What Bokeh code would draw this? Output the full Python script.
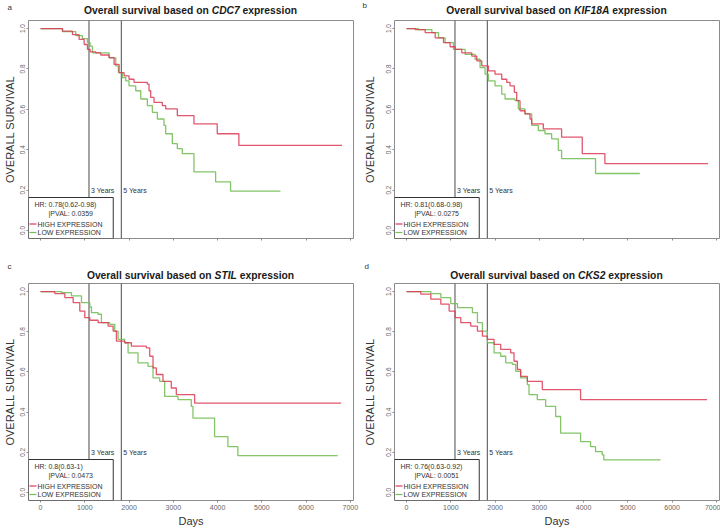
import math
from bokeh.plotting import figure
from bokeh.layouts import column, row
from bokeh.models import (BoxAnnotation, Label, FixedTicker, NumeralTickFormatter,
                          CustomJSTickFormatter, Range1d)
from bokeh.core.properties import value
from bokeh.embed import file_html
from bokeh.resources import INLINE

# ---------------------------------------------------------------------------
# Kaplan-Meier step curves: time in days, survival probability
# ---------------------------------------------------------------------------
cdc7_high_days = [0, 496, 722, 872, 985, 1060, 1120, 1248, 1361, 1549, 1662, 1775, 1888, 2000,
                  2113, 2414, 2452, 2489, 2564, 2752, 2828, 3091, 3467, 3993, 4482, 6813]
cdc7_high_surv = [1.0, 0.987, 0.970, 0.946, 0.921, 0.897, 0.885, 0.880, 0.869, 0.856, 0.823, 0.782,
                  0.766, 0.749, 0.733, 0.725, 0.692, 0.659, 0.634, 0.618, 0.602, 0.569, 0.528,
                  0.479, 0.421, 0.421]
cdc7_low_days = [0, 496, 797, 948, 1060, 1120, 1173, 1549, 1700, 1760, 1850, 1925, 2000, 2151,
                 2264, 2414, 2527, 2640, 2790, 2828, 2978, 3091, 3204, 3467, 3956, 4294, 5422]
cdc7_low_surv = [1.0, 0.985, 0.965, 0.950, 0.930, 0.913, 0.880, 0.855, 0.815, 0.782, 0.757, 0.741,
                 0.716, 0.692, 0.651, 0.618, 0.585, 0.552, 0.520, 0.479, 0.430, 0.405, 0.380,
                 0.290, 0.241, 0.195, 0.195]

kif18a_high_days = [0, 196, 421, 647, 835, 985, 1098, 1248, 1474, 1587, 1700, 1850, 2000, 2151,
                    2264, 2339, 2436, 2489, 2564, 2677, 2790, 2828, 3091, 3504, 3971, 4482, 6813]
kif18a_high_surv = [1.0, 0.995, 0.980, 0.954, 0.930, 0.910, 0.897, 0.880, 0.864, 0.840, 0.815,
                    0.790, 0.774, 0.749, 0.733, 0.716, 0.684, 0.643, 0.593, 0.577, 0.552, 0.528,
                    0.503, 0.462, 0.380, 0.331, 0.331]
kif18a_low_days = [0, 271, 572, 722, 872, 1060, 1324, 1549, 1662, 1775, 1850, 2000, 2151, 2226,
                   2452, 2527, 2677, 2828, 2978, 3128, 3279, 3429, 3504, 4271, 5272]
kif18a_low_surv = [1.0, 0.995, 0.980, 0.954, 0.930, 0.897, 0.872, 0.848, 0.807, 0.774, 0.741,
                   0.716, 0.675, 0.651, 0.643, 0.602, 0.577, 0.520, 0.495, 0.479, 0.454, 0.397,
                   0.356, 0.282, 0.282]

stil_high_days = [0, 323, 549, 737, 887, 1000, 1113, 1301, 1527, 1640, 1715, 1903, 2053, 2391,
                  2467, 2542, 2617, 2767, 2955, 3068, 3482, 6791]
stil_high_surv = [1.0, 0.990, 0.970, 0.945, 0.903, 0.870, 0.857, 0.845, 0.828, 0.803, 0.753,
                  0.745, 0.728, 0.720, 0.678, 0.620, 0.587, 0.553, 0.520, 0.487, 0.445, 0.445]
stil_low_days = [0, 474, 699, 925, 1113, 1150, 1301, 1376, 1564, 1677, 1752, 1903, 1978, 2203,
                 2429, 2542, 2692, 2805, 3106, 3407, 3444, 3933, 4234, 4459, 6715]
stil_low_surv = [1.0, 0.995, 0.978, 0.945, 0.923, 0.895, 0.887, 0.845, 0.837, 0.803, 0.762,
                 0.745, 0.695, 0.645, 0.628, 0.570, 0.553, 0.478, 0.462, 0.428, 0.370, 0.278,
                 0.228, 0.183, 0.183]

cks2_high_days = [0, 323, 549, 775, 963, 1098, 1226, 1451, 1602, 1715, 1827, 1978, 2128, 2354,
                  2429, 2504, 2579, 2730, 3068, 3933, 6791]
cks2_high_surv = [1.0, 0.987, 0.962, 0.937, 0.903, 0.870, 0.845, 0.828, 0.803, 0.778, 0.762,
                  0.737, 0.712, 0.695, 0.653, 0.612, 0.578, 0.553, 0.512, 0.462, 0.462]
cks2_low_days = [0, 549, 775, 1000, 1151, 1489, 1602, 1715, 1827, 1978, 2128, 2241, 2391, 2467,
                 2579, 2730, 2767, 2955, 3143, 3369, 3482, 3933, 4159, 4271, 4422, 4459, 5738]
cks2_low_surv = [1.0, 0.990, 0.970, 0.940, 0.920, 0.895, 0.845, 0.803, 0.745, 0.695, 0.678,
                 0.645, 0.637, 0.603, 0.570, 0.537, 0.487, 0.462, 0.428, 0.378, 0.295, 0.253,
                 0.228, 0.203, 0.187, 0.162, 0.162]

# panel annotations
panel_letters = ["a", "b", "c", "d"]
gene_names = ["CDC7", "KIF18A", "STIL", "CKS2"]
hr_labels = ["HR: 0.78(0.62-0.98)", "HR: 0.81(0.68-0.98)", "HR: 0.8(0.63-1)", "HR: 0.76(0.63-0.92)"]
pval_labels = ["|PVAL: 0.0359", "|PVAL: 0.0275", "|PVAL: 0.0473", "|PVAL: 0.0051"]
group_labels = ["HIGH EXPRESSION", "LOW EXPRESSION"]

# milestone markers
year_days = [1095, 1825]
year_labels = ["3 Years", "5 Years"]

# axes
x_ticks = [0, 1000, 2000, 3000, 4000, 5000, 6000, 7000]
y_ticks = [0.0, 0.2, 0.4, 0.6, 0.8, 1.0]
X0, X1 = -272, 7072
Y0, Y1 = -0.04, 1.04

FONT = "Liberation Sans"
RED = "#dc3a55"
GREEN = "#76bf58"

# Liberation Sans Bold advance widths (1/1000 em) for title layout
BOLD_W = {' ': 278, 'O': 778, 'v': 556, 'e': 556, 'r': 389, 'a': 556, 'l': 278, 's': 556,
          'u': 611, 'i': 278, 'b': 611, 'd': 611, 'o': 611, 'n': 611, 'x': 556, 'p': 611,
          'C': 722, 'D': 722, 'K': 722, 'I': 278, 'F': 611, 'A': 722, 'S': 667, 'T': 611,
          'L': 611, '1': 556, '2': 556, '7': 556, '8': 556}
TITLE_PX = 10.3


def text_w(s):
    return sum(BOLD_W.get(c, 556) for c in s) * TITLE_PX / 1000.0


def make_header(idx, h, pad_left, pad_right, title_y, letter_x, letter_y):
    """Strip above a panel holding its letter and its title (gene symbol in italics)."""
    p = figure(width=360, height=h, x_range=Range1d(0, 360), y_range=Range1d(h, 0),
               output_backend="svg", toolbar_location=None,
               min_border_left=0, min_border_right=0, min_border_top=0, min_border_bottom=0)
    p.axis.visible = False
    p.grid.visible = False
    p.outline_line_color = None
    p.background_fill_color = "white"
    p.border_fill_color = "white"

    gene = gene_names[idx]
    pre, post = "Overall survival based on", "expression"
    sp = text_w(" ")
    total = text_w(pre) + sp + text_w(gene) + sp + text_w(post)
    center = pad_left + (360 - pad_left - pad_right) / 2
    start = center - total / 2
    pieces = [(pre, "bold", start),
              (gene, "bold italic", start + text_w(pre) + sp),
              (post, "bold", start + text_w(pre) + sp + text_w(gene) + sp)]
    for txt, style, x in pieces:
        p.text(x=[x], y=[title_y], text=[txt], text_font=value(FONT),
               text_font_size=f"{TITLE_PX}px", text_font_style=style, text_color="#1a1a1a",
               text_baseline="middle", text_align="left")
    p.text(x=[letter_x], y=[letter_y], text=[panel_letters[idx]], text_font=value(FONT),
           text_font_size="8px", text_color="#333333", text_baseline="middle",
           text_align="left")
    return p


def make_panel(idx, hi_d, hi_s, lo_d, lo_s, h, pad_left, pad_right, pad_bottom, show_days):
    pad_top = 1
    fw = 360 - pad_left - pad_right
    fh = h - pad_top - pad_bottom
    dx = (X1 - X0) / fw  # data units per pixel
    dy = (Y1 - Y0) / fh

    p = figure(width=360, height=h, x_range=(X0, X1), y_range=(Y0, Y1),
               output_backend="svg", toolbar_location=None,
               min_border_left=pad_left, min_border_right=pad_right,
               min_border_top=pad_top, min_border_bottom=pad_bottom)
    p.grid.visible = False
    p.outline_line_color = "#8c8c8c"
    p.outline_line_width = 1
    p.background_fill_color = "white"
    p.border_fill_color = "white"

    # axes
    p.xaxis.ticker = FixedTicker(ticks=x_ticks)
    p.yaxis.ticker = FixedTicker(ticks=y_ticks)
    p.yaxis.formatter = NumeralTickFormatter(format="0.0")
    for ax in (p.xaxis[0], p.yaxis[0]):
        ax.axis_line_color = None
        ax.major_tick_line_color = "#8c8c8c"
        ax.major_tick_in = 0
        ax.major_tick_out = 2
        ax.minor_tick_line_color = None
        ax.major_label_text_font = FONT
        ax.major_label_text_color = "#666666"
        ax.axis_label_text_font = FONT
        ax.axis_label_text_font_style = "normal"
        ax.axis_label_text_color = "#333333"
        ax.axis_label_text_font_size = "11px"
    p.yaxis.major_label_orientation = "parallel"
    p.yaxis.major_label_text_font_size = "6.5px"
    p.yaxis.major_label_standoff = 1
    p.yaxis.axis_label = "OVERALL SURVIVAL"
    p.yaxis.axis_label_standoff = 2 if pad_left < 30 else 8
    p.xaxis.major_label_text_font_size = "7px"
    p.xaxis.major_label_standoff = 2
    if show_days:
        p.xaxis.axis_label = "Days"
        p.xaxis.axis_label_standoff = 2
    else:
        p.xaxis.formatter = CustomJSTickFormatter(code="return ''")

    # 3- and 5-year milestones
    p.segment(x0=year_days, y0=[Y0] * 2, x1=year_days, y1=[Y1] * 2,
              line_color="#4a4a4a", line_width=1)

    # survival curves
    p.step(lo_d, lo_s, mode="after", line_color=GREEN, line_width=1.3, line_alpha=0.9)
    p.step(hi_d, hi_s, mode="after", line_color=RED, line_width=1.3, line_alpha=0.85)

    for yd, yl in zip(year_days, year_labels):
        p.add_layout(Label(x=yd, y=0.2, text=yl, x_offset=2, text_font=FONT,
                           text_font_size="7px", text_color="#333333", text_baseline="middle"))

    # legend box in the bottom-left corner
    box_w, box_h = 85, 41
    p.add_layout(BoxAnnotation(left=X0, right=X0 + box_w * dx, bottom=Y0, top=Y0 + box_h * dy,
                               fill_color="white", fill_alpha=1.0,
                               line_color="#333333", line_width=1, line_alpha=1.0))
    legend_lines = [(hr_labels[idx], 6, 7), (pval_labels[idx], 20, 16)]
    for txt, xo, yo in legend_lines:
        p.add_layout(Label(x=X0, y=Y0, x_offset=xo, y_offset=box_h - yo, text=txt,
                           text_font=FONT, text_font_size="7px", text_color="#333333",
                           text_baseline="middle"))
    for txt, col, yo in zip(group_labels, (RED, GREEN), (26.5, 35)):
        r = p.segment(x0=[X0 + 1 * dx], y0=[Y0 + (box_h - yo) * dy],
                      x1=[X0 + 8 * dx], y1=[Y0 + (box_h - yo) * dy],
                      line_color=col, line_width=1.2)
        r.level = "overlay"
        p.add_layout(Label(x=X0, y=Y0, x_offset=9, y_offset=box_h - yo, text=txt,
                           text_font=FONT, text_font_size="7px", text_color="#333333",
                           text_baseline="middle"))
    return p


ha = make_header(0, 19, 27, 7, 10, 7, 7)
hb = make_header(1, 19, 33, 1, 10, 2, 5)
hc = make_header(2, 20, 27, 7, 13, 7, 4)
hd = make_header(3, 20, 33, 1, 13, 4, 4)

pa = make_panel(0, cdc7_high_days, cdc7_high_surv, cdc7_low_days, cdc7_low_surv, 243, 27, 7, 24, False)
pb = make_panel(1, kif18a_high_days, kif18a_high_surv, kif18a_low_days, kif18a_low_surv, 243, 33, 1, 24, False)
pc = make_panel(2, stil_high_days, stil_high_surv, stil_low_days, stil_low_surv, 247, 27, 7, 29, True)
pd = make_panel(3, cks2_high_days, cks2_high_surv, cks2_low_days, cks2_low_surv, 247, 33, 1, 29, True)

layout = column(row(ha, hb), row(pa, pb), row(hc, hd), row(pc, pd))
open("out.html", "w").write(file_html(layout, INLINE))
